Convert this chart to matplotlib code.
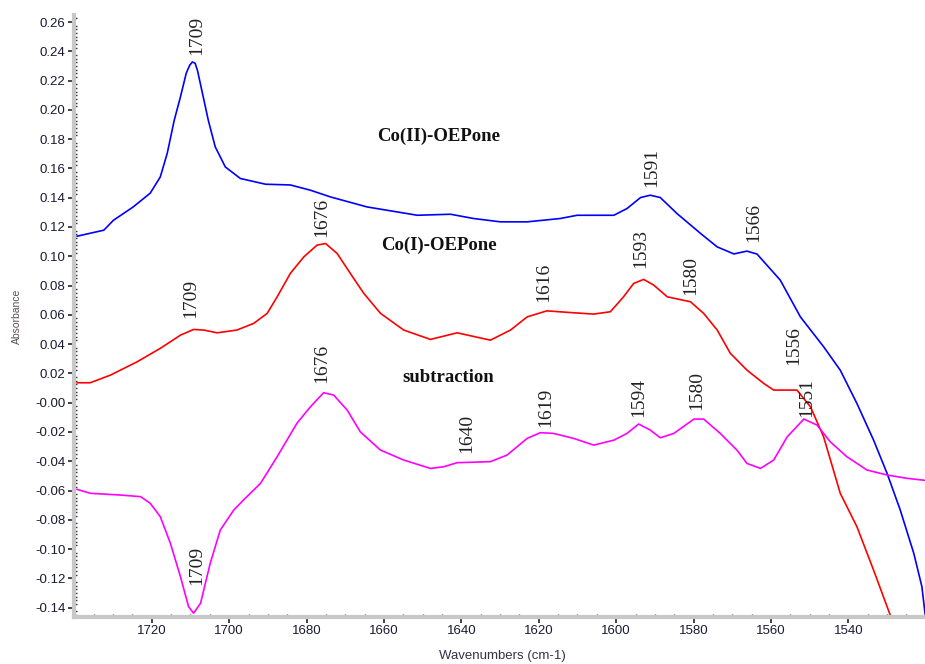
import matplotlib
matplotlib.use("Agg")
import matplotlib.pyplot as plt
from matplotlib.ticker import MultipleLocator

# Co(II)-OEPone spectrum (blue)
co2_wn = [1739.3, 1732.4, 1729.9, 1724.8, 1720.4, 1717.8, 1716.0, 1714.2, 1712.6, 1711.1,
          1710.2, 1709.5, 1708.8, 1708.2, 1706.7, 1705.4, 1703.6, 1701.0, 1697.1, 1690.6,
          1684.2, 1679.0, 1673.8, 1664.4, 1651.4, 1642.8, 1636.9, 1629.9, 1623.0, 1614.4,
          1610.1, 1600.6, 1597.2, 1593.7, 1591.2, 1588.6, 1584.3, 1578.2, 1573.9, 1569.6,
          1566.2, 1563.6, 1557.6, 1552.4, 1546.4, 1542.1, 1537.8, 1533.5, 1530.0, 1526.6,
          1523.1, 1521.0, 1520.1]
co2_abs = [0.1137, 0.1178, 0.1246, 0.1337, 0.1431, 0.1542, 0.1704, 0.1929, 0.2088, 0.2250,
           0.2305, 0.2327, 0.2318, 0.2270, 0.2088, 0.1929, 0.1747, 0.1610, 0.1531, 0.1492,
           0.1487, 0.1451, 0.1405, 0.1337, 0.1280, 0.1287, 0.1258, 0.1235, 0.1235, 0.1258,
           0.1280, 0.1280, 0.1326, 0.1401, 0.1417, 0.1401, 0.1292, 0.1156, 0.1064, 0.1016,
           0.1035, 0.1015, 0.0837, 0.0586, 0.0382, 0.0222, -0.0005, -0.0255, -0.0483, -0.0733,
           -0.1029, -0.1257, -0.146]

# Co(I)-OEPone spectrum (red)
co1_wn = [1739.3, 1735.9, 1730.7, 1723.8, 1717.8, 1712.6, 1709.2, 1706.6, 1703.1, 1698.0,
          1693.7, 1690.2, 1687.6, 1684.2, 1680.7, 1677.3, 1675.1, 1672.1, 1668.7, 1665.2,
          1660.9, 1654.9, 1648.0, 1641.1, 1632.5, 1627.3, 1623.0, 1617.9, 1611.0, 1605.8,
          1601.5, 1598.1, 1595.5, 1592.9, 1590.3, 1586.8, 1580.8, 1577.4, 1573.9, 1570.5,
          1566.2, 1561.9, 1559.3, 1553.3, 1549.8, 1546.4, 1542.1, 1537.8, 1533.5, 1529.2]
co1_abs = [0.0136, 0.0136, 0.0188, 0.0279, 0.0371, 0.0461, 0.0500, 0.0496, 0.0477, 0.0496,
           0.0541, 0.0609, 0.0723, 0.0883, 0.0996, 0.1076, 0.1087, 0.1019, 0.0883, 0.0746,
           0.0610, 0.0496, 0.0432, 0.0477, 0.0427, 0.0496, 0.0586, 0.0627, 0.0614, 0.0605,
           0.0621, 0.0723, 0.0814, 0.0842, 0.0803, 0.0723, 0.0689, 0.0610, 0.0496, 0.0337,
           0.0222, 0.0132, 0.0086, 0.0086, -0.0028, -0.0233, -0.0619, -0.0847, -0.1143, -0.1450]

# subtraction spectrum (magenta)
sub_wn = [1739.3, 1735.9, 1728.1, 1722.9, 1720.4, 1717.8, 1715.2, 1712.6, 1710.5, 1709.2,
          1707.4, 1704.9, 1702.3, 1698.8, 1696.3, 1691.9, 1687.6, 1682.5, 1679.0, 1675.6,
          1673.0, 1669.5, 1666.1, 1660.9, 1654.9, 1648.0, 1644.6, 1641.1, 1632.5, 1628.2,
          1623.0, 1619.6, 1616.2, 1611.0, 1605.8, 1600.6, 1597.2, 1594.2, 1591.2, 1588.6,
          1585.1, 1579.9, 1577.4, 1573.1, 1568.8, 1566.2, 1562.7, 1559.3, 1555.8, 1551.5,
          1548.1, 1544.7, 1540.4, 1535.2, 1530.0, 1524.8, 1520.1]
sub_abs = [-0.0592, -0.0619, -0.0631, -0.0642, -0.0687, -0.0779, -0.0960, -0.1188, -0.1393, -0.1438,
           -0.1370, -0.1097, -0.0870, -0.0733, -0.0665, -0.0551, -0.0369, -0.0141, -0.0028, 0.0068,
           0.0052, -0.0051, -0.0200, -0.0324, -0.0392, -0.0449, -0.0438, -0.0410, -0.0403, -0.0358,
           -0.0244, -0.0205, -0.0210, -0.0244, -0.0290, -0.0256, -0.0210, -0.0146, -0.0187, -0.0240,
           -0.0210, -0.0112, -0.0112, -0.0210, -0.0324, -0.0415, -0.0449, -0.0392, -0.0233, -0.0112,
           -0.0153, -0.0267, -0.0369, -0.0460, -0.0494, -0.0517, -0.0531]

# peak labels: (text, wavenumber, absorbance at the bottom of the text)
peak_labels = [("1709", 1708.3, 0.2372), ("1591", 1590.7, 0.1474), ("1566", 1564.5, 0.1098),
               ("1676", 1676.0, 0.1132), ("1709", 1710.0, 0.0575), ("1616", 1618.7, 0.0689),
               ("1593", 1593.7, 0.0917), ("1580", 1580.8, 0.0734), ("1556", 1554.1, 0.0257),
               ("1676", 1676.0, 0.0132), ("1709", 1708.3, -0.1245), ("1640", 1638.5, -0.0346),
               ("1619", 1618.3, -0.0164), ("1594", 1594.2, -0.0096), ("1580", 1579.1, -0.0051),
               ("1551", 1550.7, -0.0096)]

# curve names: (text, wavenumber, absorbance)
curve_names = [("Co(II)-OEPone", 1645.9, 0.182), ("Co(I)-OEPone", 1645.9, 0.1076),
               ("subtraction", 1643.5, 0.0174)]

xticks = [1720, 1700, 1680, 1660, 1640, 1620, 1600, 1580, 1560, 1540]
yticks = [0.26, 0.24, 0.22, 0.20, 0.18, 0.16, 0.14, 0.12, 0.10, 0.08, 0.06, 0.04, 0.02, 0.00,
          -0.02, -0.04, -0.06, -0.08, -0.10, -0.12, -0.14]

fig = plt.figure(figsize=(9.25, 6.64), dpi=100)
ax = fig.add_axes([0.08, 0.071, 0.92, 0.906])

ax.plot(co2_wn, co2_abs, color="#0000ff", lw=1.2)
ax.plot(co1_wn, co1_abs, color="#ff0000", lw=1.2)
ax.plot(sub_wn, sub_abs, color="#ff00ff", lw=1.2)

for txt, x, y in peak_labels:
    ax.text(x, y, txt, rotation=90, ha="center", va="bottom",
            family="Liberation Serif", fontsize=14, color="#222222")
for txt, x, y in curve_names:
    ax.text(x, y, txt, ha="center", va="center", family="Liberation Serif",
            fontsize=13.5, fontweight="bold", color="#111111")

ax.set_xlim(1740.1, 1520.2)
ax.set_ylim(-0.1463, 0.2646)

ax.set_xticks(xticks)
ax.set_xticklabels([str(v) for v in xticks])
ax.set_yticks(yticks)
ax.set_yticklabels(["-0.00" if v == 0 else "%.2f" % v for v in yticks])
ax.xaxis.set_minor_locator(MultipleLocator(5))
ax.yaxis.set_minor_locator(MultipleLocator(0.0025))

ax.tick_params(which="major", direction="out", length=4, width=1.2, color="#222233",
               labelsize=9.5, labelcolor="#1a1a33", pad=2)
ax.tick_params(which="minor", direction="in", length=2, width=1, color="#333333")
for lab in ax.get_xticklabels() + ax.get_yticklabels():
    lab.set_family("Liberation Sans")

for s in ["top", "right"]:
    ax.spines[s].set_visible(False)
for s in ["left", "bottom"]:
    ax.spines[s].set_color("#c8c8c8")
    ax.spines[s].set_linewidth(3)

ax.set_xlabel("Wavenumbers (cm-1)", family="Liberation Sans", fontsize=9.5, color="#333344")
ax.xaxis.set_label_coords(0.503, -0.055)
ax.set_ylabel("Absorbance", family="Liberation Sans", fontsize=7.5, color="#5a5050")
ax.yaxis.set_label_coords(-0.061, 0.50)

fig.savefig("out.png", dpi=100)
